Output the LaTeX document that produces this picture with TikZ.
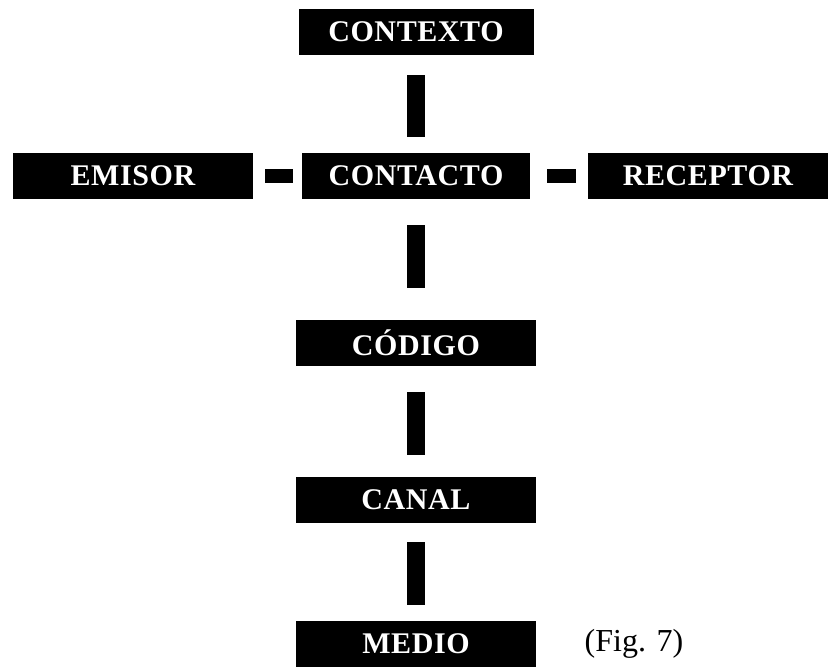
\documentclass[tikz,border=0pt]{standalone}
\usepackage{fontspec}
\setmainfont{Liberation Serif}
\newfontfamily\boxfont[LetterSpace=2]{Liberation Serif}
\usetikzlibrary{positioning}

\begin{document}
\begin{tikzpicture} [%
    node distance = 144pt,
    on grid,
    every node/.style = {inner sep = 0pt},
    block/.style = {%
      fill = black,
      text = white,
      minimum width = 240pt,
      minimum height = 46pt,
      font = \boxfont\bfseries\fontsize{30}{30}\selectfont },
    link/.style = {line width = 18pt},
    hlink/.style = {line width = 14pt}
  ]
  \useasboundingbox (-416pt,-490pt) rectangle (418pt,176pt);

  \node[block, minimum width=228pt] (C) {CONTACTO};
  \node[block, minimum width=235pt] (X) [above=of C] {CONTEXTO};
  \node[block] (E) [left=283pt of C] {EMISOR};
  \node[block] (R) [right=292pt of C] {RECEPTOR};
  \node[block] (D) [below=167pt of C] {CÓDIGO};
  \node[block] (N) [below=157pt of D] {CANAL};
  \node[block] (M) [below=of N] {MEDIO};
  \node[font=\fontsize{32}{32}\selectfont] (F) [right=218pt of M] {(Fig. 7)};

  \draw[link, shorten <=20pt, shorten >=16pt] (X) -- (C);
  \draw[hlink, shorten <=12pt, shorten >=9pt] (E) -- (C);
  \draw[hlink, shorten <=17pt, shorten >=12pt] (C) -- (R);
  \draw[link, shorten <=26pt, shorten >=32pt] (C) -- (D);
  \draw[link, shorten <=26pt, shorten >=22pt] (D) -- (N);
  \draw[link, shorten <=19pt, shorten >=16pt] (N) -- (M);

\end{tikzpicture}
\end{document}
